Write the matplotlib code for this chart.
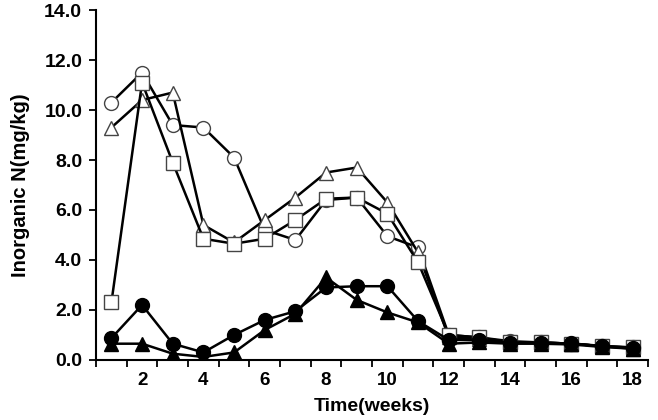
import numpy as np
import matplotlib
matplotlib.use("Agg")
import matplotlib.pyplot as plt

weeks = list(range(1, 19))

open_circle = [10.3, 11.5, 9.4, 9.3, 8.1, 5.2, 4.8, 6.4, 6.5, 4.95, 4.5,
               1.0, 0.9, 0.75, 0.7, 0.65, 0.55, 0.5]
open_triangle = [9.3, 10.4, 10.7, 5.4, 4.7, 5.6, 6.5, 7.5, 7.7, 6.3, 4.3,
                 0.9, 0.85, 0.7, 0.7, 0.65, 0.55, 0.45]
open_square = [2.3, 11.1, 7.9, 4.85, 4.65, 4.85, 5.6, 6.45, 6.5, 5.85, 3.9,
               1.0, 0.9, 0.7, 0.7, 0.65, 0.55, 0.5]
filled_circle = [0.87, 2.2, 0.65, 0.3, 1.0, 1.6, 1.95, 2.9, 2.95, 2.95, 1.55,
                 0.8, 0.8, 0.68, 0.68, 0.66, 0.56, 0.48]
filled_triangle = [0.65, 0.65, 0.25, 0.12, 0.3, 1.2, 1.85, 3.3, 2.4, 1.9, 1.5,
                   0.65, 0.7, 0.65, 0.65, 0.62, 0.52, 0.45]

y_ticks = np.arange(0, 14.1, 2)

plt.rcParams['font.family'] = ['Liberation Sans', 'DejaVu Sans']

fig = plt.figure(figsize=(6.58, 4.2), dpi=100)
ax = fig.add_axes([0.146, 0.143, 0.839, 0.833])

open_kw = dict(color="black", linewidth=1.8, markersize=10,
               markerfacecolor="white", markeredgecolor="#444444", markeredgewidth=1.0)
filled_kw = dict(color="black", linewidth=1.8, markersize=10,
                 markerfacecolor="black", markeredgecolor="black")

ax.plot(weeks, open_circle, marker="o", **open_kw)
ax.plot(weeks, open_triangle, marker="^", **open_kw)
ax.plot(weeks, open_square, marker="s", **open_kw)
ax.plot(weeks, filled_circle, marker="o", **filled_kw)
ax.plot(weeks, filled_triangle, marker="^", **filled_kw)

# Achsen im Excel-Stil
ax.set_xlim(0.5, 18.5)
ax.set_ylim(0, 14)
ax.spines["top"].set_visible(False)
ax.spines["right"].set_visible(False)
ax.spines["left"].set_linewidth(1.5)
ax.spines["bottom"].set_linewidth(1.5)

ax.set_xticks(np.arange(0.5, 18.6, 1))
ax.set_xticklabels([])
ax.set_xticks(range(2, 19, 2), minor=True)
ax.set_xticklabels([str(w) for w in range(2, 19, 2)], minor=True,
                   fontsize=13.5, fontweight="bold")
ax.tick_params(axis="x", which="major", direction="out", length=5, width=1.3)
ax.tick_params(axis="x", which="minor", length=0, pad=9)

ax.set_yticks(y_ticks)
ax.set_yticklabels([f"{v:.1f}" for v in y_ticks], fontsize=14, fontweight="bold")
ax.tick_params(axis="y", direction="out", length=5, width=1.3, pad=5)

ax.set_xlabel("Time(weeks)", fontsize=14, fontweight="bold", labelpad=6)
ax.set_ylabel("Inorganic N(mg/kg)", fontsize=14.5, fontweight="bold", labelpad=10)

fig.savefig("out.png", dpi=100)
